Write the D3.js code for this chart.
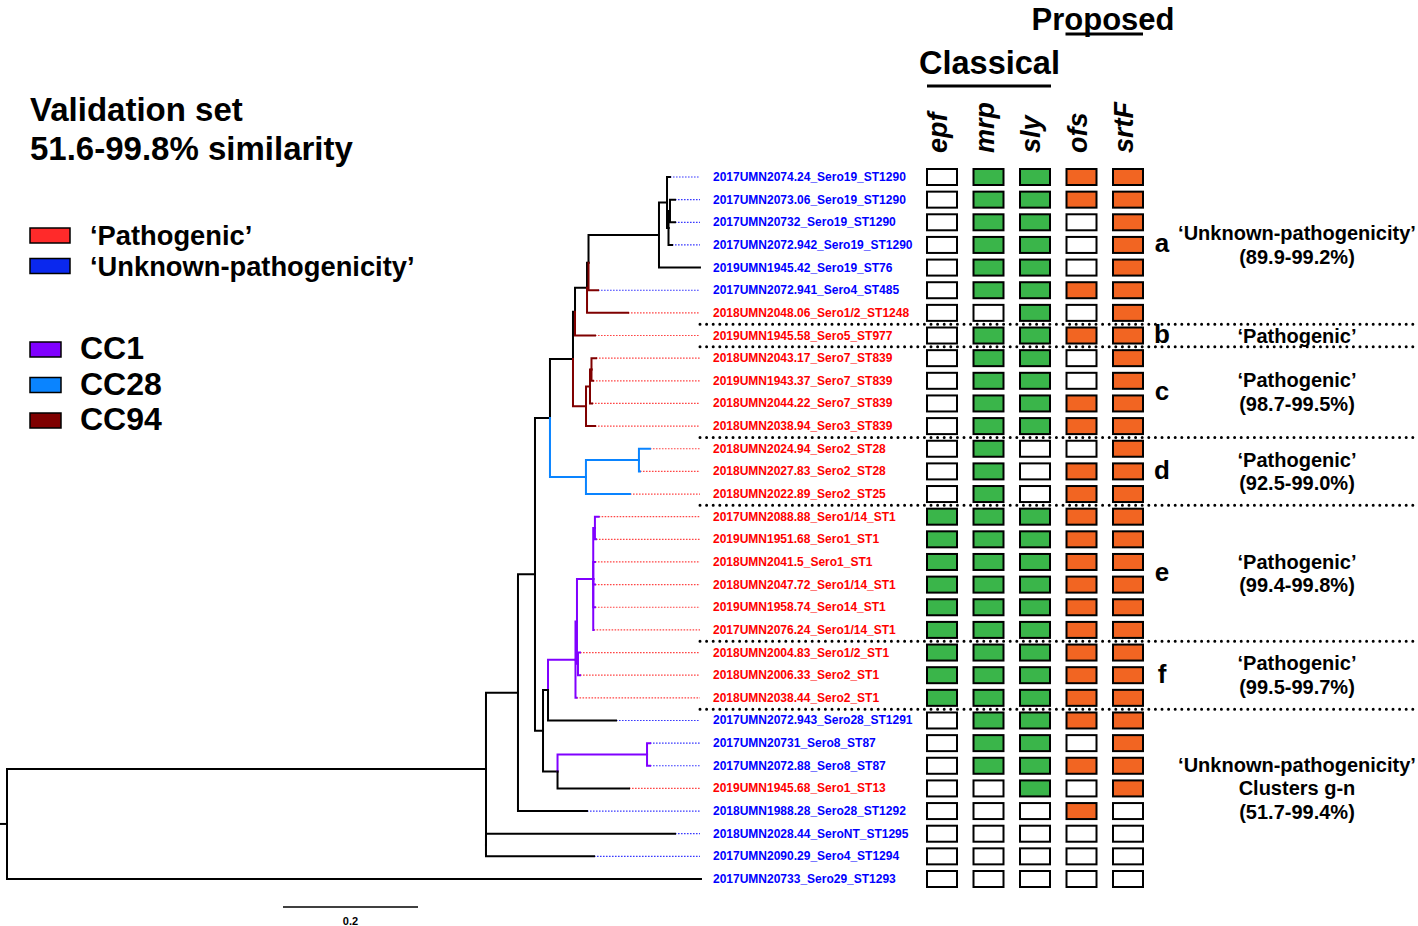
<!DOCTYPE html>
<html><head><meta charset="utf-8">
<script src="https://cdn.jsdelivr.net/npm/d3@7"></script>
<style>
body{margin:0;background:#fff}
svg{display:block}
text{font-family:"Liberation Sans",Arial,Helvetica,sans-serif;font-weight:bold}
</style>
</head><body>
<svg id="chart" width="1418" height="926"></svg>
<script>
// ---------------- DATA ----------------
const tipLabels = [
  "2017UMN2074.24_Sero19_ST1290","2017UMN2073.06_Sero19_ST1290","2017UMN20732_Sero19_ST1290",
  "2017UMN2072.942_Sero19_ST1290","2019UMN1945.42_Sero19_ST76","2017UMN2072.941_Sero4_ST485",
  "2018UMN2048.06_Sero1/2_ST1248","2019UMN1945.58_Sero5_ST977","2018UMN2043.17_Sero7_ST839",
  "2019UMN1943.37_Sero7_ST839","2018UMN2044.22_Sero7_ST839","2018UMN2038.94_Sero3_ST839",
  "2018UMN2024.94_Sero2_ST28","2018UMN2027.83_Sero2_ST28","2018UMN2022.89_Sero2_ST25",
  "2017UMN2088.88_Sero1/14_ST1","2019UMN1951.68_Sero1_ST1","2018UMN2041.5_Sero1_ST1",
  "2018UMN2047.72_Sero1/14_ST1","2019UMN1958.74_Sero14_ST1","2017UMN2076.24_Sero1/14_ST1",
  "2018UMN2004.83_Sero1/2_ST1","2018UMN2006.33_Sero2_ST1","2018UMN2038.44_Sero2_ST1",
  "2017UMN2072.943_Sero28_ST1291","2017UMN20731_Sero8_ST87","2017UMN2072.88_Sero8_ST87",
  "2019UMN1945.68_Sero1_ST13","2018UMN1988.28_Sero28_ST1292","2018UMN2028.44_SeroNT_ST1295",
  "2017UMN2090.29_Sero4_ST1294","2017UMN20733_Sero29_ST1293"
];
// P = 'Pathogenic', U = 'Unknown-pathogenicity'
const tipStatus = ["U","U","U","U","U","U","P","P","P","P","P","P","P","P","P","P","P","P","P","P","P","P","P","P","U","U","U","P","U","U","U","U"];

const genes = ["epf","mrp","sly","ofs","srtF"];
const genePresence = [
  [0,1,1,1,1],[0,1,1,1,1],[0,1,1,0,1],[0,1,1,0,1],[0,1,1,0,1],[0,1,1,1,1],[0,0,1,0,1],
  [0,1,1,1,1],
  [0,1,1,0,1],[0,1,1,0,1],[0,1,1,1,1],[0,1,1,1,1],
  [0,1,0,0,1],[0,1,0,1,1],[0,1,0,1,1],
  [1,1,1,1,1],[1,1,1,1,1],[1,1,1,1,1],[1,1,1,1,1],[1,1,1,1,1],[1,1,1,1,1],
  [1,1,1,1,1],[1,1,1,1,1],[1,1,1,1,1],
  [0,1,1,1,1],[0,1,1,0,1],[0,1,1,1,1],[0,0,1,0,1],[0,0,0,1,0],
  [0,0,0,0,0],[0,0,0,0,0],[0,0,0,0,0]
];

// Tree topology with branch lengths (substitutions/site); tips t0..t31 refer to tipLabels
const treeNewick =
 "((((((((((((t0:0.0044,((t1:0.0074,t2:0.0074)Na4:0.0022,t3:0.0052)Na3:0.0022)Na2:0.0119,t4:0.0607)Na1:0.1044,t5:0.0141)U:0.0022,t6:0.0607)T:0.0178,t7:0.0296)R:0.003," +
 "(((t8:0.0067,t9:0.0022)S3:0.0022,t10:0.003)S2:0.0059,t11:0.0133)S:0.0193)P:0.0341," +
 "((t12:0.0163,t13:0.0015)Q2:0.0785,t14:0.0652)Q:0.0533)D:0.0222," +
 "((((((t15:0.0055,t16:0.0015)H1:0.0025,t17:0.0025,t18:0.0025,t19:0.0025,t20:0.0005)H:0.0241,(t21:0.003,t22:0.003)I:0.0015)G2:0.0022,t23:0.0015)G:0.0407,t24:0.1007)F:0.0074," +
 "((t25:0.0044,t26:0.0044)K:0.1326,t27:0.1059)J:0.0215)E:0.0119)C:0.0252,t28:0.1022)B:0.0474," +
 "(t29:0.28,t30:0.16)A2:0)A:0.7096,t31:1.0281)root;";

const cc1Clade  = ["G","G2","H","H1","I","t15","t16","t17","t18","t19","t20","t21","t22","t23","K","t25","t26"];
const cc28Clade = ["Q","Q2","t12","t13","t14"];
const cc94Clade = ["t5","t6","t7","S","S2","S3","t8","t9","t10","t11"];

const separatorAfterRow = [6,7,11,14,20,23];
const groupLetters   = ["a","b","c","d","e","f",""];
const groupCenterRow = [3,7,9.5,13,17.5,22,27];
const groupTexts = [
  ["‘Unknown-pathogenicity’","(89.9-99.2%)"],
  ["‘Pathogenic’"],
  ["‘Pathogenic’","(98.7-99.5%)"],
  ["‘Pathogenic’","(92.5-99.0%)"],
  ["‘Pathogenic’","(99.4-99.8%)"],
  ["‘Pathogenic’","(99.5-99.7%)"],
  ["‘Unknown-pathogenicity’","Clusters g-n","(51.7-99.4%)"]
];
const titleLines = ["Validation set","51.6-99.8% similarity"];
const statusLegend = ["‘Pathogenic’","‘Unknown-pathogenicity’"];
const ccLegend = ["CC1","CC28","CC94"];
const scaleBarValue = 0.2;

// ---------------- STYLE ----------------
const COL = {
  path:"#ff0000", unk:"#0000ff", pathDot:"#ff4646", unkDot:"#3a3aff",
  cc1:"#8000ff", cc28:"#0a84ff", cc94:"#7f0000",
  green:"#3ab54a", orange:"#f26522",
  legPath:"#ff2a2a", legUnk:"#0a28ee"
};

// ---------------- PARSE TREE ----------------
function parseNewick(s){
  let i=0;
  function node(){
    const n={};
    if(s[i]==="("){
      n.children=[]; i++;
      n.children.push(node());
      while(s[i]===","){i++; n.children.push(node());}
      i++;
    }
    let name="";
    while(i<s.length && !",():;".includes(s[i])) name+=s[i++];
    n.name=name;
    n.length=0;
    if(s[i]===":"){ i++; let l=""; while(i<s.length && !",();".includes(s[i])) l+=s[i++]; n.length=+l; }
    return n;
  }
  return node();
}
const root = d3.hierarchy(parseNewick(treeNewick));
root.eachBefore(d=>{ d.dist = (d.parent ? d.parent.dist : 0) + (d.parent ? d.data.length : 0); });

const rows = d3.range(tipLabels.length);
const y = d3.scalePoint().domain(rows).range([177, 879]);
const x = d3.scaleLinear().domain([0,1]).range([7, 682]);
const labelX = 713, dotEnd = 700;

root.eachAfter(d=>{
  if(!d.children){ d.row = +d.data.name.slice(1); d.y = y(d.row); }
  else d.y = (d.children[0].y + d.children[d.children.length-1].y)/2;
  d.x = x(d.dist);
});

function branchColor(name){
  if(cc1Clade.includes(name)) return COL.cc1;
  if(cc28Clade.includes(name)) return COL.cc28;
  if(cc94Clade.includes(name)) return COL.cc94;
  return "#000";
}

const svg = d3.select("#chart");

// ---------------- TREE ----------------
const gTree = svg.append("g");
gTree.selectAll("line.ext").data(root.leaves().filter(d=>d.x < dotEnd-1)).join("line")
  .attr("x1",d=>d.x).attr("x2",dotEnd).attr("y1",d=>d.y).attr("y2",d=>d.y)
  .attr("stroke",d=>tipStatus[d.row]==="P"?COL.pathDot:COL.unkDot)
  .attr("stroke-width",1.2).attr("stroke-dasharray","1.6,1.4");
gTree.selectAll("path.br").data(root.descendants().filter(d=>d.parent)).join("path")
  .attr("d",d=>`M${d.parent.x},${d.parent.y}V${d.y}H${d.x}`)
  .attr("fill","none").attr("stroke",d=>branchColor(d.data.name))
  .attr("stroke-width",2).attr("stroke-linecap","square");
gTree.append("line").attr("x1",0).attr("x2",root.x).attr("y1",root.y).attr("y2",root.y)
  .attr("stroke","#000").attr("stroke-width",2);

// tip labels
svg.append("g").selectAll("text").data(rows).join("text")
  .attr("x",labelX).attr("y",r=>y(r)+4)
  .attr("font-size",12).attr("fill",r=>tipStatus[r]==="P"?COL.path:COL.unk)
  .text(r=>tipLabels[r]);

// scale bar
const sb0 = 283, sb1 = sb0 + (x(scaleBarValue)-x(0));
svg.append("line").attr("x1",sb0).attr("x2",sb1).attr("y1",907).attr("y2",907)
  .attr("stroke","#000").attr("stroke-width",1.5);
svg.append("text").attr("x",(sb0+sb1)/2).attr("y",925).attr("text-anchor","middle")
  .attr("font-size",11).text(scaleBarValue);

// ---------------- GENE MATRIX ----------------
const gx = d3.scalePoint().domain(genes).range([942, 1128]);
const cellW = 30, cellH = 16;
const gm = svg.append("g");
rows.forEach(r=>{
  genes.forEach((g,j)=>{
    const on = genePresence[r][j];
    gm.append("rect").attr("x",gx(g)-cellW/2).attr("y",y(r)-cellH/2)
      .attr("width",cellW).attr("height",cellH)
      .attr("fill", on ? (j<3 ? COL.green : COL.orange) : "#fff")
      .attr("stroke","#000").attr("stroke-width",2);
  });
});
svg.append("g").selectAll("text").data(genes).join("text")
  .attr("transform",g=>`translate(${gx(g)+5},153) rotate(-90)`)
  .attr("font-size",27).attr("font-style","italic").text(g=>g);
svg.append("text").attr("x",919).attr("y",74).attr("font-size",32.5).text("Classical");
svg.append("line").attr("x1",gx("epf")-15).attr("x2",gx("sly")+16).attr("y1",86).attr("y2",86)
  .attr("stroke","#000").attr("stroke-width",3);
svg.append("text").attr("x",1103).attr("y",30).attr("text-anchor","middle").attr("font-size",31).text("Proposed");
svg.append("line").attr("x1",gx("ofs")-16).attr("x2",gx("srtF")+15).attr("y1",34).attr("y2",34)
  .attr("stroke","#000").attr("stroke-width",3);

// ---------------- SEPARATORS ----------------
svg.append("g").selectAll("line").data(separatorAfterRow).join("line")
  .attr("x1",dotEnd).attr("x2",1418)
  .attr("y1",r=>(y(r)+y(r+1))/2).attr("y2",r=>(y(r)+y(r+1))/2)
  .attr("stroke","#000").attr("stroke-width",3).attr("stroke-linecap","round")
  .attr("stroke-dasharray","0,6.6");

// ---------------- GROUP ANNOTATIONS ----------------
const rowStep = y(1)-y(0);
groupCenterRow.forEach((cr,i)=>{
  const cy = y(0) + cr*rowStep;
  if(groupLetters[i]) svg.append("text").attr("x",1162).attr("y",cy+7.5)
    .attr("text-anchor","middle").attr("font-size",26).text(groupLetters[i]);
  const lines = groupTexts[i], lh = 23.5;
  lines.forEach((t,k)=>{
    svg.append("text").attr("x",1297).attr("y",cy + (k-(lines.length-1)/2)*lh + 7)
      .attr("text-anchor","middle").attr("font-size",20).text(t);
  });
});

// ---------------- LEFT LEGEND ----------------
titleLines.forEach((t,i)=>svg.append("text").attr("x",30).attr("y",121+i*39).attr("font-size",33).text(t));
[COL.legPath, COL.legUnk].forEach((c,i)=>{
  svg.append("rect").attr("x",30).attr("y",228+i*30.5).attr("width",40).attr("height",15)
    .attr("fill",c).attr("stroke","#000").attr("stroke-width",1.5);
  svg.append("text").attr("x",90).attr("y",245+i*30.5).attr("font-size",27.3).text(statusLegend[i]);
});
[COL.cc1, COL.cc28, COL.cc94].forEach((c,i)=>{
  svg.append("rect").attr("x",30).attr("y",342+i*35.5).attr("width",31).attr("height",15)
    .attr("fill",c).attr("stroke","#000").attr("stroke-width",1.5);
  svg.append("text").attr("x",80).attr("y",359+i*35.5).attr("font-size",32).text(ccLegend[i]);
});
</script>
</body></html>
